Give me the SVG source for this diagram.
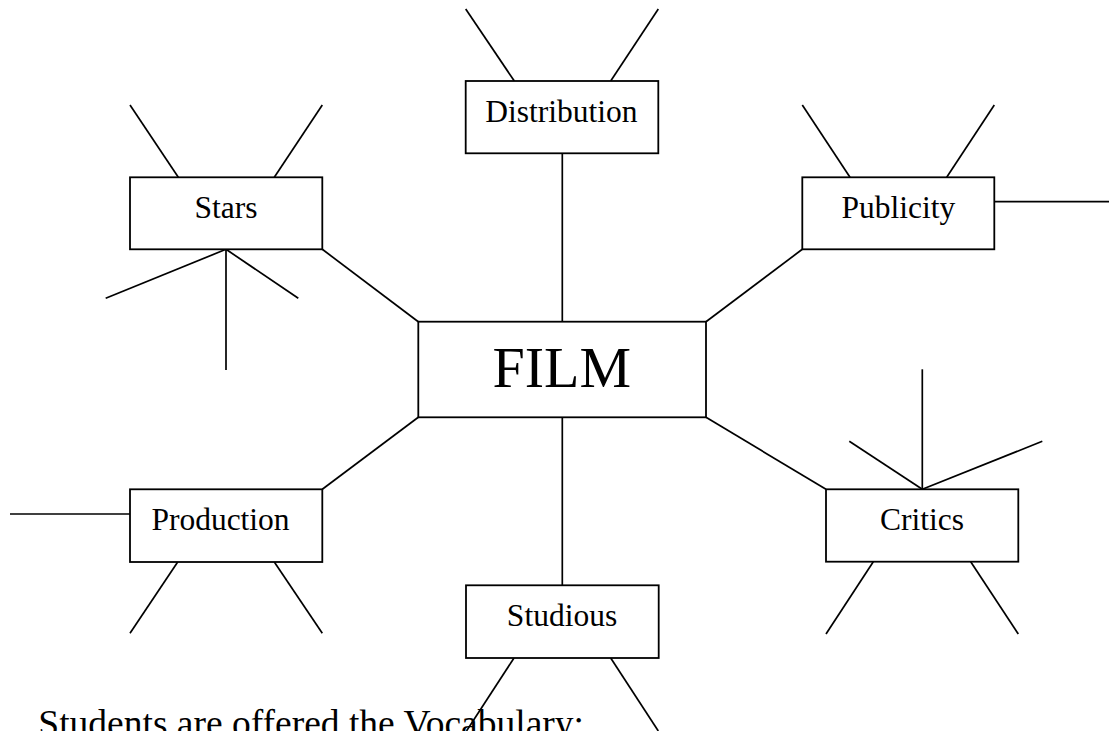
<svg xmlns="http://www.w3.org/2000/svg" width="1109" height="731" viewBox="0 0 1109 731">
  <style>
    .box { fill: #ffffff; stroke: #000000; stroke-width: 1.8; }
    .ln { stroke: #000000; stroke-width: 1.7; fill: none; }
    .lbl { font-family: "Liberation Serif", "Times New Roman", serif; font-size: 31.5px; fill: #000000; text-anchor: middle; }
    .big { font-family: "Liberation Serif", "Times New Roman", serif; font-size: 58px; fill: #000000; text-anchor: middle; }
    .body { font-family: "Liberation Serif", "Times New Roman", serif; font-size: 37.5px; fill: #000000; }
  </style>
  <rect width="1109" height="731" fill="#ffffff"/>

  <!-- spokes from the centre and the free-ended branch strokes -->
  <g id="connectors" class="ln">
    <!-- centre to topics -->
    <line x1="562.3" y1="153.3" x2="562.3" y2="321.7"/>
    <line x1="322.3" y1="249.3" x2="418.3" y2="321.7"/>
    <line x1="802.3" y1="249.3" x2="706" y2="321.7"/>
    <line x1="322.3" y1="489.3" x2="418.3" y2="417.3"/>
    <line x1="826" y1="489.3" x2="706" y2="417.3"/>
    <line x1="562.3" y1="417.3" x2="562.3" y2="585.3"/>

    <!-- Distribution branches -->
    <line x1="465.7" y1="9" x2="514.3" y2="81"/>
    <line x1="658.3" y1="9" x2="610.7" y2="81"/>

    <!-- Stars branches -->
    <line x1="130" y1="105" x2="178.3" y2="177.3"/>
    <line x1="322.3" y1="105" x2="274.3" y2="177.3"/>
    <line x1="226" y1="249.3" x2="105.7" y2="298.3"/>
    <line x1="226" y1="249.3" x2="226" y2="370"/>
    <line x1="226" y1="249.3" x2="298.3" y2="298.3"/>

    <!-- Publicity branches -->
    <line x1="802.3" y1="105" x2="850" y2="177.3"/>
    <line x1="994.3" y1="105" x2="946.7" y2="177.3"/>
    <line x1="994.3" y1="201.7" x2="1109" y2="201.7"/>

    <!-- Critics branches -->
    <line x1="922.3" y1="489.3" x2="922.3" y2="369.3"/>
    <line x1="922.3" y1="489.3" x2="849.3" y2="441.3"/>
    <line x1="922.3" y1="489.3" x2="1042.3" y2="441.3"/>
    <line x1="873.3" y1="561.7" x2="826" y2="634"/>
    <line x1="970.7" y1="561.7" x2="1018.3" y2="634"/>

    <!-- Production branches -->
    <line x1="10" y1="514" x2="130" y2="514"/>
    <line x1="177.7" y1="562" x2="130" y2="633.3"/>
    <line x1="274.3" y1="562" x2="322.3" y2="633.3"/>

    <!-- Studious branches -->
    <line x1="514" y1="658" x2="466.5" y2="731"/>
    <line x1="610.7" y1="658" x2="658.3" y2="731"/>
  </g>

  <g id="node-film">
    <rect class="box" x="418.3" y="321.7" width="287.7" height="95.6"/>
    <text class="big" x="561.7" y="387.3">FILM</text>
  </g>

  <g id="node-distribution">
    <rect class="box" x="465.7" y="81" width="192.6" height="72.3"/>
    <text class="lbl" x="561.5" y="121.7">Distribution</text>
  </g>

  <g id="node-stars">
    <rect class="box" x="130" y="177.3" width="192.3" height="72"/>
    <text class="lbl" x="226" y="218.3">Stars</text>
  </g>

  <g id="node-publicity">
    <rect class="box" x="802.3" y="177.3" width="192" height="72"/>
    <text class="lbl" x="898.3" y="218.3">Publicity</text>
  </g>

  <g id="node-production">
    <rect class="box" x="130" y="489.3" width="192.3" height="72.7"/>
    <text class="lbl" x="220.5" y="530">Production</text>
  </g>

  <g id="node-critics">
    <rect class="box" x="826" y="489.3" width="192.3" height="72.4"/>
    <text class="lbl" x="922" y="530">Critics</text>
  </g>

  <g id="node-studious">
    <rect class="box" x="466" y="585.3" width="192.7" height="72.7"/>
    <text class="lbl" x="562" y="626">Studious</text>
  </g>

  <!-- caption line; the page edge trims its lower part -->
  <text class="body" x="38.3" y="736">Students are offered the Vocabulary:</text>
</svg>
